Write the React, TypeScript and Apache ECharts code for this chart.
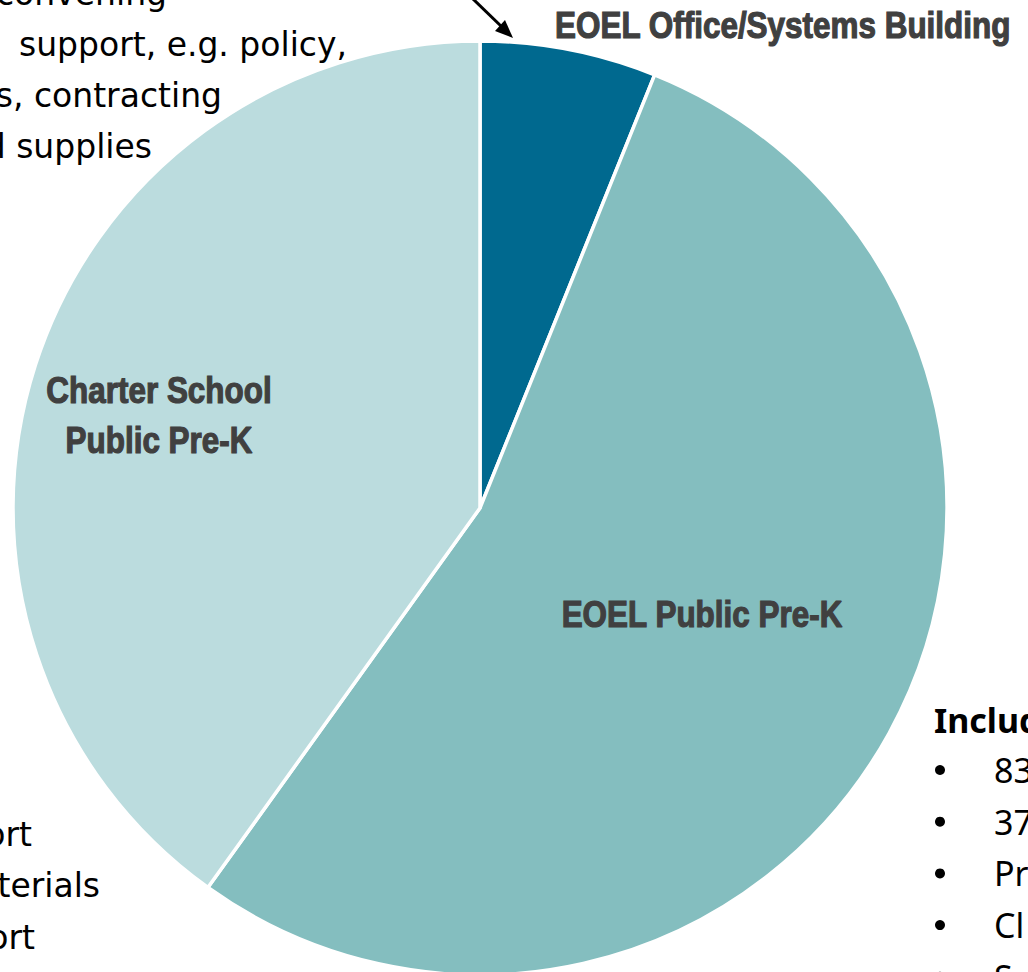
import React, { useEffect, useRef } from "react";
import * as echarts from "echarts";

const categories = ["EOEL Office/Systems Building", "EOEL Public Pre-K", "Charter School\nPublic Pre-K"];
const shares = [6.1, 53.8, 40.1];
const sliceColors = ["#00698F", "#84BEBF", "#BBDCDE"];

const topLeftLines = ["convening", "support, e.g. policy,", "ns, contracting", "d supplies"];
const bottomLeftLines = ["ort", "terials", "ort"];
const rightHeading = "Includ";
const rightBullets = ["83", "37", "Pr", "Cl", "S"];

export default function App() {
  const ref = useRef<HTMLDivElement>(null);
  useEffect(() => {
    if (!ref.current) return;
    const chart = echarts.init(ref.current, null, { renderer: "svg" });
    const labelPos = [
      { x: 555, y: 25.5, align: "left" },
      { x: 702, y: 614.5, align: "center" },
      { x: 159, y: 415, align: "center" },
    ];
    const bodyFont = "DejaVu Sans";
    const graphics: any[] = [];
    categories.forEach((c, i) => {
      const lp = labelPos[i];
      graphics.push({
        type: "group",
        x: lp.x,
        y: lp.y,
        scaleX: 0.85,
        z: 100,
        children: [
          {
            type: "text",
            x: 0,
            y: 0,
            z: 100,
            style: {
              text: c,
              fill: "#404040",
              stroke: "#404040",
              lineWidth: 1.2,
              font: "bold 37px 'Liberation Sans'",
              align: lp.align,
              verticalAlign: "middle",
              lineHeight: 50,
            },
          },
        ],
      });
    });
    const topRightEnds = [167, 347, 222, 152];
    topLeftLines.forEach((t, i) => {
      graphics.push({
        type: "text",
        x: topRightEnds[i],
        y: -7 + i * 51,
        z: 100,
        style: { text: t, fill: "#000", font: `33px '${bodyFont}'`, align: "right", verticalAlign: "middle" },
      });
    });
    const botEnds = [32, 100, 35];
    bottomLeftLines.forEach((t, i) => {
      graphics.push({
        type: "text",
        x: botEnds[i],
        y: 834 + i * 51.5,
        z: 100,
        style: { text: t, fill: "#000", font: `33px '${bodyFont}'`, align: "right", verticalAlign: "middle" },
      });
    });
    graphics.push({
      type: "text",
      x: 934,
      y: 720,
      z: 100,
      style: { text: rightHeading, fill: "#000", font: "bold 34px 'Noto Sans'", align: "left", verticalAlign: "middle" },
    });
    rightBullets.forEach((t, i) => {
      const by = 770 + i * 51.7;
      graphics.push({ type: "circle", z: 100, shape: { cx: 940, cy: by, r: 5 }, style: { fill: "#000" } });
      graphics.push({
        type: "text",
        x: 994,
        y: by,
        z: 100,
        style: { text: t, fill: "#000", font: "34px 'Noto Sans'", align: "left", verticalAlign: "middle" },
      });
    });
    // arrow
    graphics.push({ type: "line", z: 100, shape: { x1: 472, y1: -2, x2: 503, y2: 28 }, style: { stroke: "#000", lineWidth: 3 } });
    graphics.push({
      type: "polygon",
      z: 100,
      shape: { points: [[513, 38], [505, 20], [495, 31]] },
      style: { fill: "#000" },
    });

    chart.setOption({
      animation: false,
      backgroundColor: "#ffffff",
      series: [
        {
          type: "pie",
          z: 1,
          center: [480, 508],
          radius: 467,
          startAngle: 90,
          clockwise: true,
          silent: true,
          itemStyle: { borderColor: "#ffffff", borderWidth: 3.5 },
          label: { show: false },
          labelLine: { show: false },
          data: categories.map((c, i) => ({ name: c, value: shares[i], itemStyle: { color: sliceColors[i] } })),
        },
      ],
      graphic: graphics,
    });
    return () => chart.dispose();
  }, []);
  return <div ref={ref} style={{ position: "fixed", left: 0, top: 0, width: 1028, height: 972 }} />;
}
